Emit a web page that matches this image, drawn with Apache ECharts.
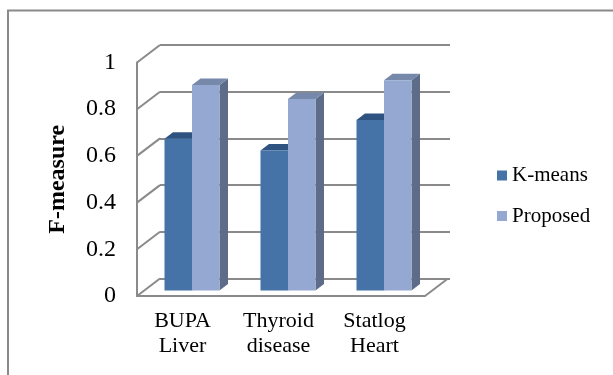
<!DOCTYPE html>
<html><head><meta charset="utf-8">
<script src="https://cdn.jsdelivr.net/npm/echarts@6/dist/echarts.min.js"></script>
<style>html,body{margin:0;padding:0;background:#fff}#c{width:613px;height:375px}</style>
</head><body><div id="c"></div>
<script>
const categories = ['BUPA\nLiver', 'Thyroid\ndisease', 'Statlog\nHeart'];
const seriesNames = ['K-means', 'Proposed'];
const kmeans = [0.65, 0.60, 0.73];
const proposed = [0.88, 0.82, 0.90];
const yTicks = [0, 0.2, 0.4, 0.6, 0.8, 1];
const yTickLabels = ['0', '0.2', '0.4', '0.6', '0.8', '1'];

const FONT = '"Liberation Serif", "Times New Roman", Times, serif';
const LINE = '#8a8a8a';
const DEPTH = [23, -17.5];
const BAR_DEPTH = [8.5, -6.5];
const KCOL = {front:'#4572a7', top:'#2f5380', side:'#34598a'};
const PCOL = {front:'#95a8d1', top:'#7689ab', side:'#5d6c88'};

function bar3d(colors, side) {
  return function (params, api) {
    const ci = api.value(0), v = api.value(1);
    const band = api.size([1, 0])[0];
    const w = band * 0.2865;
    const base = api.coord([ci, 0]);
    const top = api.coord([ci, v]);
    const x0 = side < 0 ? base[0] - w : base[0];
    const x1 = x0 + w;
    const y0 = top[1], y1 = base[1];
    const dx = BAR_DEPTH[0], dy = BAR_DEPTH[1];
    return {type:'group', children:[
      {type:'polygon', shape:{points:[[x1,y0],[x1+dx,y0+dy],[x1+dx,y1+dy],[x1,y1]]}, style:{fill:colors.side}},
      {type:'polygon', shape:{points:[[x0,y0],[x0+dx,y0+dy],[x1+dx,y0+dy],[x1,y0]]}, style:{fill:colors.top}},
      {type:'rect', shape:{x:x0,y:y0,width:w,height:y1-y0}, style:{fill:colors.front}}
    ]};
  };
}

function walls(params, api) {
  const v = api.value(1);
  const cs = params.coordSys;
  const y = api.coord([0, v])[1];
  const left = cs.x, right = cs.x + cs.width;
  const children = [
    {type:'line', shape:{x1:left, y1:y, x2:left + DEPTH[0], y2:y + DEPTH[1]}, style:{stroke:LINE, lineWidth:2}}
  ];
  if (v === 0) {
    children.push({type:'line', shape:{x1:right, y1:y, x2:right + DEPTH[0], y2:y + DEPTH[1]}, style:{stroke:LINE, lineWidth:2}});
  }
  return {type:'group', children};
}

const chart = echarts.init(document.getElementById('c'), null, {renderer:'canvas'});
chart.setOption({
  backgroundColor:'#fff',
  animation:false,
  graphic:[{type:'rect', shape:{x:8, y:10.5, width:700, height:500}, style:{fill:'none', stroke:LINE, lineWidth:2}, z:-10}],
  legend:{
    orient:'vertical', left:497, top:165, padding:0, itemWidth:10, itemHeight:10, itemGap:19.5,
    icon:'rect',
    textStyle:{fontFamily:FONT, fontSize:21, color:'#000', lineHeight:20},
    data:[{name:seriesNames[0], itemStyle:{color:KCOL.front}}, {name:seriesNames[1], itemStyle:{color:PCOL.front}}]
  },
  grid:[
    {left:144, top:57, width:288, height:233.5},
    {left:137, top:62.5, width:288, height:233.5},
    {left:160, top:45, width:290, height:233.3}
  ],
  xAxis:[
    {gridIndex:0, type:'category', data:categories, show:false},
    {gridIndex:1, type:'category', data:categories,
      axisLine:{show:true, lineStyle:{color:LINE, width:2}}, axisTick:{show:false},
      axisLabel:{fontFamily:FONT, fontSize:22, color:'#000', lineHeight:25, margin:13, padding:[0,5,0,0]}},
    {gridIndex:2, type:'category', data:categories, show:false}
  ],
  yAxis:[
    {gridIndex:0, type:'value', min:0, max:1, interval:0.2, show:false},
    {gridIndex:1, type:'value', min:0, max:1, interval:0.2,
      axisLine:{show:true, lineStyle:{color:LINE, width:2}}, axisTick:{show:false}, splitLine:{show:false},
      axisLabel:{fontFamily:FONT, fontSize:24, color:'#000', margin:21,
        formatter:function(v){ const i = yTicks.findIndex(t => Math.abs(t - v) < 1e-9); return i >= 0 ? yTickLabels[i] : ''; }},
      name:'F-measure', nameLocation:'middle', nameRotate:90, nameGap:67,
      nameTextStyle:{fontFamily:FONT, fontSize:24, fontWeight:'bold', color:'#000'}},
    {gridIndex:2, type:'value', min:0, max:1, interval:0.2,
      axisLine:{show:false}, axisTick:{show:false}, axisLabel:{show:false},
      splitLine:{show:true, lineStyle:{color:LINE, width:2}}}
  ],
  series:[
    {type:'custom', name:'walls', xAxisIndex:1, yAxisIndex:1, renderItem:walls,
      data:yTicks.map(v => [0, v]), silent:true, z:1},
    {type:'custom', name:seriesNames[0], xAxisIndex:0, yAxisIndex:0, renderItem:bar3d(KCOL, -1),
      itemStyle:{color:KCOL.front}, data:kmeans.map((v,i) => [i, v]), z:2},
    {type:'custom', name:seriesNames[1], xAxisIndex:0, yAxisIndex:0, renderItem:bar3d(PCOL, 1),
      itemStyle:{color:PCOL.front}, data:proposed.map((v,i) => [i, v]), z:3}
  ]
});
</script></body></html>
